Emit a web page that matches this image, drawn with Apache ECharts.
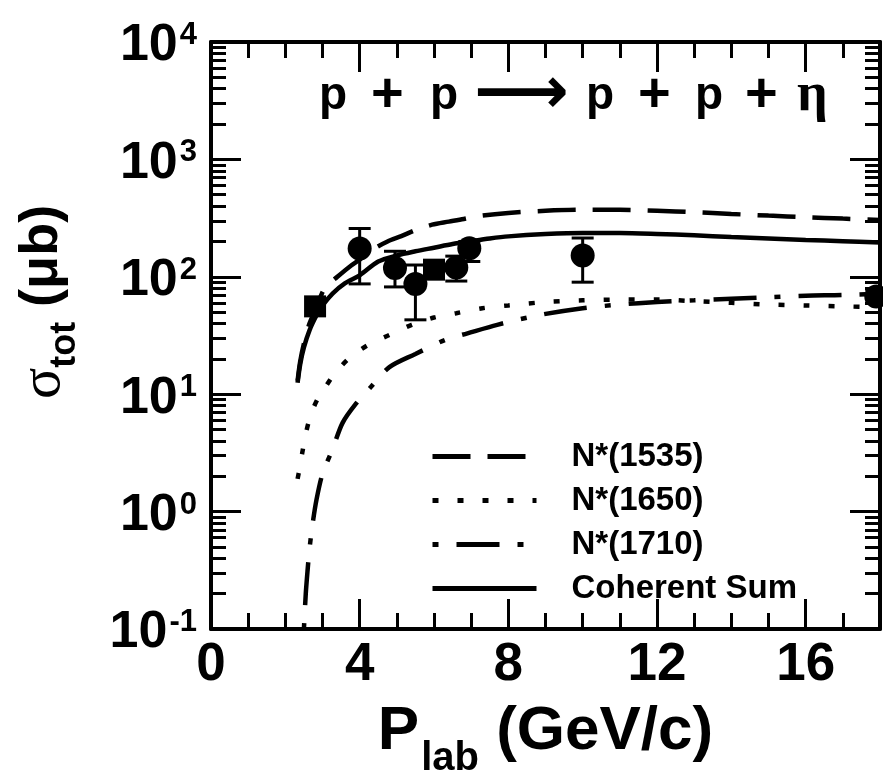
<!DOCTYPE html>
<html>
<head>
<meta charset="UTF-8">
<title>p + p -> p + p + eta</title>
<script src="https://cdn.jsdelivr.net/npm/echarts@6/dist/echarts.min.js"></script>
<style>
html, body { margin: 0; padding: 0; background: #fff; }
#main { width: 883px; height: 784px; }
</style>
</head>
<body>
<div id="main"></div>
<script>
// axis ticks
var xMajor = [0, 4, 8, 12, 16];
var xMinor = [1, 2, 3, 5, 6, 7, 9, 10, 11, 13, 14, 15, 17];
var yMajor = [0.1, 1, 10, 100, 1000, 10000];
var yMinor = [];
for (var d = 0; d < yMajor.length - 1; d++) {
    for (var k = 2; k < 10; k++) yMinor.push(+(k * yMajor[d]).toPrecision(3));
}

// N*(1535), dashed
var n1535X = [2.33, 2.4, 2.5, 2.65, 2.84, 3.06, 3.4, 3.73, 4.0, 4.34, 4.75, 5.12, 5.5, 5.95, 6.4, 6.8, 7.2, 8, 9, 10, 11, 12, 13, 14, 15, 16, 17, 18];
var n1535Y = [13, 19, 27, 40, 55, 80, 100, 122, 140, 170, 200, 222, 250, 278, 295, 311, 330, 350, 365, 372, 372, 365, 355, 343, 332, 322, 313, 305];
// N*(1650), dotted
var n1650X = [2.33, 2.38, 2.45, 2.55, 2.7, 2.9, 3.1, 3.3, 3.7, 4.2, 4.8, 5.4, 6.0, 6.6, 7.3, 8, 9, 10, 11, 12, 13, 14, 15, 16, 17, 18];
var n1650Y = [1.9, 2.3, 3.1, 4.6, 6.9, 9.5, 11.8, 14.6, 20, 26, 32, 39, 45, 49, 54, 57, 61, 63, 64, 64, 62, 60, 58, 57, 56, 55];
// N*(1710), dash-dot
var n1710X = [2.5, 2.55, 2.6, 2.65, 2.73, 2.84, 3.0, 3.27, 3.54, 3.9, 4.3, 4.8, 5.5, 6.3, 6.9, 7.7, 8.8, 10, 11, 12, 13, 14, 15, 16, 17, 18];
var n1710Y = [0.1, 0.2, 0.32, 0.48, 0.77, 1.27, 2.1, 3.4, 5.7, 8.3, 11.5, 17, 22, 29, 33, 39, 47, 54, 58, 61, 63, 65, 67, 69, 70, 72];
// coherent sum, solid
var sumX = [2.33, 2.4, 2.5, 2.65, 2.84, 3.0, 3.27, 3.6, 4.0, 4.5, 5.0, 5.5, 6.0, 6.5, 7.0, 7.5, 8, 9, 10, 11, 12, 13, 14, 15, 16, 17, 18];
var sumY = [12.5, 18, 25, 35, 47, 57, 72, 88, 103, 135, 152, 165, 177, 190, 201, 212, 221, 231, 236, 236, 232, 226, 218, 212, 206, 201, 196];

// data, circles with error bars
var dataX = [4.0, 4.95, 5.5, 6.6, 6.95, 10.0, 17.9];
var dataY = [174, 119, 87, 120, 175, 152, 68];
var dataLo = [87, 82, 43, 92, 135, 90, 60];
var dataHi = [258, 165, 126, 150, 200, 214, 78];
// data, squares
var sqX = [2.8, 6.0];
var sqY = [56, 115];

function pairs(xs, ys) {
    return xs.map(function (x, i) { return [x, ys[i]]; });
}

var FONT = 'Liberation Sans';
var BLACK = '#000';

function expLabel(v) {
    var e = Math.round(Math.log(v) / Math.LN10);
    return '{b|10}{s|' + e + '}';
}

function xAxisDef(pos, ticks, len, withLine, withLabels) {
    return {
        type: 'value', position: pos, min: 0, max: 18,
        axisLine: { show: withLine, onZero: false, lineStyle: { color: BLACK, width: 4 } },
        axisTick: { show: true, inside: true, length: len, customValues: ticks, lineStyle: { color: BLACK, width: 3 } },
        axisLabel: withLabels ? {
            show: true, customValues: xMajor, margin: 10,
            color: BLACK, fontFamily: FONT, fontWeight: 'bold', fontSize: 53
        } : { show: false },
        splitLine: { show: false }
    };
}

function yAxisDef(pos, ticks, len, withLine, withLabels) {
    return {
        type: 'log', logBase: 10, position: pos, min: 0.1, max: 10000,
        axisLine: { show: withLine, onZero: false, lineStyle: { color: BLACK, width: 4 } },
        axisTick: { show: true, inside: true, length: len, customValues: ticks, lineStyle: { color: BLACK, width: 3 } },
        axisLabel: withLabels ? {
            show: true, customValues: yMajor, margin: 14,
            formatter: expLabel, padding: [8, 0, 0, 0],
            rich: {
                b: { color: BLACK, fontFamily: FONT, fontWeight: 'bold', fontSize: 52, lineHeight: 52, verticalAlign: 'bottom' },
                s: { color: BLACK, fontFamily: FONT, fontWeight: 'bold', fontSize: 31, lineHeight: 31, verticalAlign: 'top', padding: [0, 0, 38, 2] }
            }
        } : { show: false },
        splitLine: { show: false }
    };
}

function renderErr(params, api) {
    var x = api.value(0);
    var pLo = api.coord([x, api.value(1)]);
    var pHi = api.coord([x, api.value(2)]);
    var cap = 11;
    var st = { stroke: BLACK, lineWidth: 3 };
    return {
        type: 'group',
        children: [
            { type: 'line', shape: { x1: pLo[0], y1: pLo[1], x2: pHi[0], y2: pHi[1] }, style: st },
            { type: 'line', shape: { x1: pLo[0] - cap, y1: pLo[1], x2: pLo[0] + cap, y2: pLo[1] }, style: st },
            { type: 'line', shape: { x1: pHi[0] - cap, y1: pHi[1], x2: pHi[0] + cap, y2: pHi[1] }, style: st }
        ]
    };
}

function curve(name, xs, ys, dash) {
    return {
        name: name, type: 'line', xAxisIndex: 0, yAxisIndex: 0,
        data: pairs(xs, ys), symbol: 'none', smooth: 0.3, z: 3,
        itemStyle: { color: BLACK },
        lineStyle: { color: BLACK, width: 4.5, type: dash, cap: 'butt' }
    };
}

var chart = echarts.init(document.getElementById('main'), null, { renderer: 'canvas' });

var tP = { color: BLACK, fontFamily: FONT, fontWeight: 'bold', fontSize: 46, lineHeight: 60 };
var tPlus = { color: BLACK, fontFamily: FONT, fontWeight: 'bold', fontSize: 56, lineHeight: 60 };

chart.setOption({
    animation: false,
    backgroundColor: '#fff',
    grid: { left: 211, right: 3, top: 42, bottom: 129, containLabel: false },
    title: {
        left: 319, top: 66, padding: 0,
        text: '{p1|p}{q1|+}{p2|p}{r|⟶}{p3|p}{q2|+}{p4|p}{q3|+}{e|η}',
        textStyle: {
            rich: {
                p1: Object.assign({ width: 52 }, tP),
                q1: Object.assign({ width: 59 }, tPlus),
                p2: Object.assign({ width: 44 }, tP),
                r: { color: BLACK, fontFamily: 'DejaVu Sans', fontSize: 66, lineHeight: 60, width: 112 },
                p3: Object.assign({ width: 52 }, tP),
                q2: Object.assign({ width: 57 }, tPlus),
                p4: Object.assign({ width: 50 }, tP),
                q3: Object.assign({ width: 52 }, tPlus),
                e: { color: BLACK, fontFamily: 'Liberation Serif', fontSize: 54, lineHeight: 60 }
            }
        }
    },
    legend: {
        orient: 'vertical', left: 430, top: 440, padding: 0,
        itemWidth: 104, itemHeight: 20, itemGap: 11,
        data: ['N*(1535)', 'N*(1650)', 'N*(1710)', 'Coherent Sum'],
        itemStyle: { opacity: 0 },
        lineStyle: { width: 5 },
        textStyle: { color: BLACK, fontFamily: FONT, fontWeight: 'bold', fontSize: 33, lineHeight: 33, padding: [0, 0, 0, 30] }
    },
    graphic: [{
        type: 'text', x: 44, y: 302, rotation: Math.PI / 2,
        style: {
            text: '{g|σ}{t|tot}{n| (μb)}',
            align: 'center', verticalAlign: 'middle',
            rich: {
                g: { fill: BLACK, fontFamily: 'Liberation Serif', fontSize: 58, lineHeight: 58, verticalAlign: 'top' },
                t: { fill: BLACK, fontFamily: FONT, fontWeight: 'bold', fontSize: 36, lineHeight: 36, verticalAlign: 'top', padding: [32, 0, 0, 0] },
                n: { fill: BLACK, fontFamily: FONT, fontWeight: 'bold', fontSize: 54, lineHeight: 58, verticalAlign: 'top' }
            }
        }
    }],
    xAxis: [
        Object.assign(xAxisDef('bottom', xMajor, 30, true, true), {
            name: '{P|P}{l|lab}{n| (GeV/c)}', nameLocation: 'middle', nameGap: 72,
            nameTextStyle: {
                rich: {
                    P: { color: BLACK, fontFamily: FONT, fontWeight: 'bold', fontSize: 62, lineHeight: 62, verticalAlign: 'top' },
                    l: { color: BLACK, fontFamily: FONT, fontWeight: 'bold', fontSize: 40, lineHeight: 40, verticalAlign: 'top', padding: [38, 0, 0, 2] },
                    n: { color: BLACK, fontFamily: FONT, fontWeight: 'bold', fontSize: 62, lineHeight: 62, verticalAlign: 'top' }
                }
            }
        }),
        xAxisDef('bottom', xMinor, 16, false, false),
        xAxisDef('top', xMajor, 30, true, false),
        xAxisDef('top', xMinor, 16, false, false)
    ],
    yAxis: [
        yAxisDef('left', yMajor, 30, true, true),
        yAxisDef('left', yMinor, 15, false, false),
        yAxisDef('right', yMajor, 30, true, false),
        yAxisDef('right', yMinor, 15, false, false)
    ],
    series: [
        curve('N*(1535)', n1535X, n1535Y, [38, 17]),
        curve('N*(1650)', n1650X, n1650Y, [6, 19]),
        curve('N*(1710)', n1710X, n1710Y, [6, 18, 43, 18]),
        curve('Coherent Sum', sumX, sumY, 'solid'),
        {
            type: 'custom', name: 'err', xAxisIndex: 0, yAxisIndex: 0, z: 4,
            renderItem: renderErr,
            encode: { x: 0, y: [1, 2] },
            data: dataX.map(function (x, i) { return [x, dataLo[i], dataHi[i]]; })
        },
        {
            type: 'scatter', name: 'data', xAxisIndex: 0, yAxisIndex: 0, z: 5,
            symbol: 'circle', symbolSize: 24,
            itemStyle: { color: BLACK, opacity: 1 },
            data: pairs(dataX, dataY)
        },
        {
            type: 'scatter', name: 'data2', xAxisIndex: 0, yAxisIndex: 0, z: 5,
            symbol: 'rect', symbolSize: 22,
            itemStyle: { color: BLACK, opacity: 1 },
            data: pairs(sqX, sqY)
        }
    ]
});
</script>
</body>
</html>
